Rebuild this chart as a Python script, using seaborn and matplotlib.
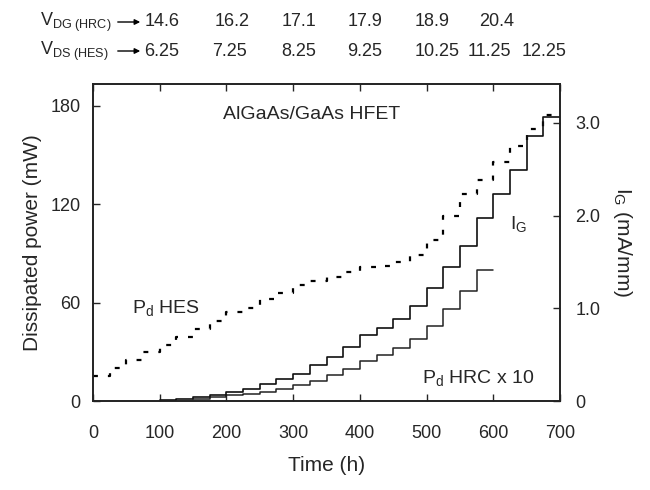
import numpy as np
import pandas as pd
import matplotlib
matplotlib.use("Agg")
import matplotlib.pyplot as plt
import matplotlib.transforms as mtransforms
import seaborn as sns

# step edges every 25 h
t_edges = np.arange(0, 725, 25)

# P_d HES (mW), one value per 25 h interval, 0-700 h
pd_hes = [15.4, 20, 25, 30, 34, 39, 44, 49, 54, 57, 62.5, 66, 70.5, 73,
          75.5, 79, 82, 82.5, 84.5, 89, 98, 112.6, 126, 135, 146, 155.6,
          165.8, 174.4]

# I_G (mA/mm), intervals from 100 h to 700 h
ig_start = 100
i_g = [0.01, 0.02, 0.04, 0.06, 0.10, 0.13, 0.18, 0.24, 0.29, 0.39, 0.48,
       0.58, 0.71, 0.79, 0.88, 1.02, 1.22, 1.45, 1.67, 1.97, 2.23, 2.49,
       2.86, 3.06]

# P_d HRC x 10 (mW), intervals from 150 h to 600 h
hrc_start = 150
pd_hrc10 = [1.0, 2.3, 3.4, 4.5, 5.5, 7.4, 10, 12.5, 16, 19.7, 24.1, 28.3,
            32.6, 37.6, 45.9, 56, 67.4, 79.7]

# voltage labels above the frame
v_dg = ["14.6", "16.2", "17.1", "17.9", "18.9", "20.4"]
v_dg_t = [103, 209, 309, 408, 509, 605]
v_ds = ["6.25", "7.25", "8.25", "9.25", "10.25", "11.25", "12.25"]
v_ds_t = [103, 205, 309, 407, 516, 594, 676]


def steps(start, vals):
    x = np.arange(start, start + 25 * (len(vals) + 1), 25)
    y = list(vals) + [vals[-1]]
    return pd.DataFrame({"t": x, "v": y})


df_hes = steps(0, pd_hes)
df_ig = steps(ig_start, i_g)
df_hrc = steps(hrc_start, pd_hrc10)

sns.set_style("ticks")
plt.rcParams["font.family"] = ["Liberation Sans", "DejaVu Sans"]
plt.rcParams["mathtext.fontset"] = "custom"
plt.rcParams["mathtext.rm"] = "Liberation Sans"
plt.rcParams["mathtext.it"] = "Liberation Sans"
plt.rcParams["xtick.direction"] = "in"
plt.rcParams["ytick.direction"] = "in"

fig = plt.figure(figsize=(6.5, 4.9), dpi=100)
ax = fig.add_axes([93 / 650, 1 - 401 / 490, 467 / 650, 317 / 490])
ax2 = ax.twinx()

sns.lineplot(data=df_hes, x="t", y="v", ax=ax, color="black", lw=1.6,
             drawstyle="steps-post", linestyle=(0, (2.2, 4.5)), estimator=None)
sns.lineplot(data=df_hrc, x="t", y="v", ax=ax, color="#222222", lw=1.1,
             drawstyle="steps-post", estimator=None)
sns.lineplot(data=df_ig, x="t", y="v", ax=ax2, color="#111111", lw=1.2,
             drawstyle="steps-post", estimator=None)

ax.set_xlim(0, 700)
ax.set_ylim(0, 193.4)
ax2.set_ylim(0, 3.42)

ax.set_xticks(range(0, 800, 100))
ax.set_yticks([0, 60, 120, 180])
ax2.set_yticks([0, 1, 2, 3])
ax2.set_yticklabels(["0", "1.0", "2.0", "3.0"])

ax.tick_params(axis="x", top=True, labelsize=13, pad=17, length=5, width=1)
ax.tick_params(axis="y", right=False, labelsize=13, pad=9, length=5, width=1)
ax2.tick_params(axis="y", labelsize=13, pad=11, length=5, width=1)

for a in (ax, ax2):
    for s in a.spines.values():
        s.set_visible(True)
        s.set_linewidth(1.2)
        s.set_color("#222222")

ax.set_xlabel("Time (h)", fontsize=15, labelpad=10)
ax.set_ylabel("Dissipated power (mW)", fontsize=15, labelpad=6)
ax2.set_ylabel(r"I$_\mathregular{G}$ (mA/mm)", fontsize=15, rotation=270,
               va="bottom", labelpad=8)

ax.text(328, 175, "AlGaAs/GaAs HFET", fontsize=14, ha="center", va="center")
ax.text(58, 57, r"P$_\mathregular{d}$ HES", fontsize=14, ha="left", va="center")
ax.text(625, 108, r"I$_\mathregular{G}$", fontsize=14, ha="left", va="center")
ax.text(493, 14, r"P$_\mathregular{d}$ HRC x 10", fontsize=14, ha="left",
        va="center")

trans = mtransforms.blended_transform_factory(ax.transData, fig.transFigure)
y1 = 1 - 22 / 490
y2 = 1 - 51 / 490
for lab, t in zip(v_dg, v_dg_t):
    ax.text(t, y1, lab, transform=trans, fontsize=13, ha="center", va="center")
for lab, t in zip(v_ds, v_ds_t):
    ax.text(t, y2, lab, transform=trans, fontsize=13, ha="center", va="center")

fig.text(40 / 650, y1, r"V$_{\mathregular{DG}\ \mathregular{(HRC)}}$",
         fontsize=13, ha="left", va="center")
fig.text(40 / 650, y2, r"V$_{\mathregular{DS}\ \mathregular{(HES)}}$",
         fontsize=13, ha="left", va="center")
for yy in (y1, y2):
    ax.annotate("", xy=(143 / 650, yy), xytext=(115 / 650, yy),
                xycoords="figure fraction", textcoords="figure fraction",
                arrowprops=dict(arrowstyle="-|>", color="black", lw=1,
                                mutation_scale=8))

fig.savefig("out.png", dpi=100)
